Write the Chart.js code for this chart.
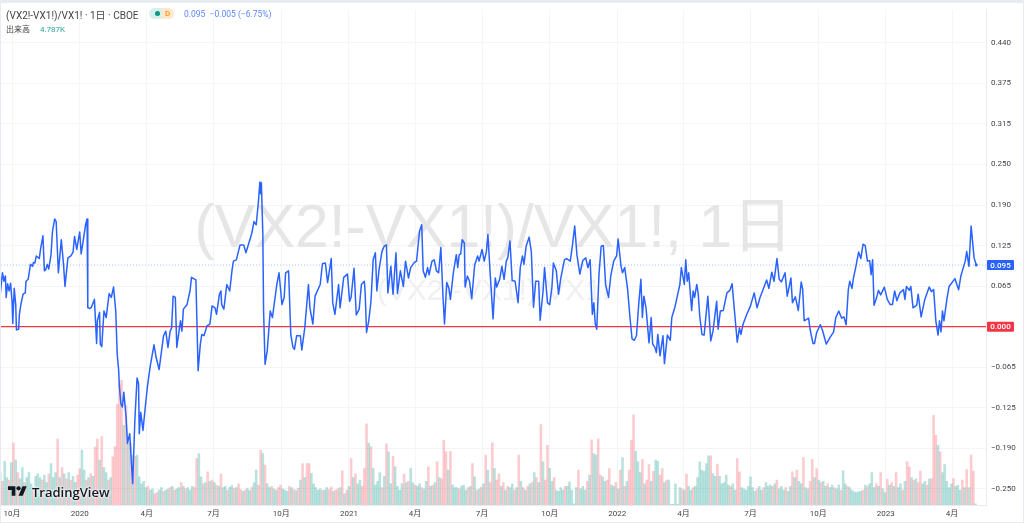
<!DOCTYPE html>
<html lang="ja">
<head>
<meta charset="utf-8">
<title>(VX2!-VX1!)/VX1!</title>
<script src="https://cdn.jsdelivr.net/npm/chart.js@4"></script>
<style>
  html, body { margin: 0; padding: 0; background: #fff; overflow: hidden; }
  #wrap { position: relative; width: 1024px; height: 523px; font-family: Roboto, "Noto Sans CJK JP", sans-serif; }
  #chart { position: absolute; left: 0; top: 0; }
  #frame { position: absolute; inset: 0; box-sizing: border-box; border: solid #e9ebf3; border-width: 3px 1px 1px 1px; pointer-events: none; }
  .row { position: absolute; left: 6px; white-space: nowrap; }
  #title { top: 7px; font-size: 10px; color: #444; }
  #badge { position: absolute; left: 149px; top: 8px; width: 25px; height: 11px; border-radius: 6px; overflow: hidden; background: linear-gradient(90deg, #d8f0ec 52%, #ffe8cc 52%); }
  #badge i { position: absolute; left: 5.5px; top: 3px; width: 5px; height: 5px; border-radius: 50%; background: #089981; }
  #badge b { position: absolute; left: 16px; top: 0; font-size: 8px; line-height: 11px; font-weight: 500; color: #f7931a; }
  #quote { position: absolute; left: 184px; top: 9px; font-size: 8.5px; color: #5b86ff; white-space: pre; }
  #volume { top: 23px; font-size: 8px; color: #444; }
  #volume span { margin-left: 10px; color: #26a69a; }
  #logo { position: absolute; left: 8px; top: 484px; }
  #brand { position: absolute; left: 32px; top: 483px; font: 600 13px "Open Sans", sans-serif; color: #131722; text-shadow: 0 0 3px #fff, 0 0 3px #fff; }
</style>
</head>
<body>
<div id="wrap">
  <canvas id="chart" width="1024" height="523"></canvas>
  <div id="frame"></div>
  <div class="row" id="title">(VX2!-VX1!)/VX1! · 1日 · CBOE</div>
  <div id="badge"><i></i><b>D</b></div>
  <div id="quote">0.095  −0.005 (−6.75%)</div>
  <div class="row" id="volume">出来高<span>4.787K</span></div>
  <svg id="logo" width="19" height="15" viewBox="0 0 36 28"><path d="M14 22H7V11H0V4h14v18zM28 22h-8l7.5-18h8L28 22z" fill="#131722"/><circle cx="20" cy="8" r="4" fill="#131722"/></svg>
  <div id="brand">TradingView</div>
</div>

<script>
// ============================
// DATA
// ============================
// days are counted from 2019-10-01
const dateTickDays = [0, 92, 183, 274, 366, 458, 548, 639, 731, 823, 913, 1004, 1096, 1188, 1278];
const dateTickLabels = ["10月", "2020", "4月", "7月", "10月", "2021", "4月", "7月", "10月", "2022", "4月", "7月", "10月", "2023", "4月"];

const priceTicks = [0.4375, 0.375, 0.3125, 0.25, 0.1875, 0.125, 0.0625, 0, -0.0625, -0.125, -0.1875, -0.25];
const priceTickLabels = ["0.440", "0.375", "0.315", "0.250", "0.190", "0.125", "0.065", "0.000", "−0.065", "−0.125", "−0.190", "−0.250"];

const lastValue = 0.095;
const zeroValue = 0;

const spreadDays = [
  -16,-13,-11,-9,-8,-6,-4,-2,0,1,3,5,6,9,10,12,15,18,19,22,25,28,29,31,33,37,39,42,44,46,48,50,53,55,58,60,63,67,70,72,76,80,83,85,88,92,94,98,100,102,
  103,106,108,112,115,116,119,120,122,125,128,132,135,138,141,143,145,146,148,150,152,155,157,160,164,167,170,172,173,175,178,181,184,188,193,196,200,206,209,212,215,217,219,222,224,229,231,233,238,240,
  242,244,250,253,256,258,261,265,269,272,276,278,282,284,285,288,292,296,299,301,305,310,315,318,322,326,329,332,335,337,338,339,341,342,344,347,351,354,360,363,367,370,372,376,379,382,384,387,392,394,
  398,403,405,409,412,419,422,426,429,434,436,439,444,446,451,456,459,461,465,468,472,475,479,480,482,485,488,491,494,496,499,503,506,509,511,515,518,522,524,528,532,535,539,542,547,550,554,557,559,562,
  565,567,571,574,577,580,583,586,588,591,594,596,600,604,606,608,610,612,615,616,619,622,625,629,633,635,639,642,645,647,650,654,657,659,663,666,669,672,674,677,680,684,688,691,694,696,699,703,706,709,
  712,716,718,722,724,728,731,734,736,740,743,746,751,754,759,762,765,768,772,776,780,783,786,789,791,793,795,798,801,804,807,811,814,818,822,824,828,830,833,837,840,843,846,849,852,855,857,859,862,866,
  869,871,874,876,878,881,885,887,891,895,897,901,908,910,914,916,918,920,924,926,928,931,933,935,938,941,946,950,953,958,960,963,967,972,976,979,983,986,989,991,994,999,1004,1009,1013,1017,1021,1026,1029,1033,
  1036,1040,1043,1046,1051,1054,1059,1061,1065,1069,1073,1075,1077,1083,1085,1089,1091,1094,1099,1102,1107,1112,1117,1120,1124,1128,1131,1134,1137,1139,1142,1144,1147,1151,1154,1157,1160,1163,1166,1168,1170,1172,1176,1178,1181,1186,1190,1194,1197,1200,
  1203,1207,1212,1214,1216,1220,1222,1225,1230,1232,1236,1241,1247,1250,1253,1256,1259,1261,1263,1265,1267,1271,1274,1282,1287,1290,1296,1298,1301,1304,1308,1311
];

const spreadValues = [
  .050,.083,.070,.078,.045,.066,.055,.067,.039,.005,.059,.034,-.005,-.004,.019,.034,.050,.052,.070,.073,.096,.093,.099,.098,.109,.105,.121,.140,.086,.088,.096,.089,.111,.147,.166,.162,.083,.134,.096,.062,.106,.109,.115,.139,.119,.146,.112,.142,.157,.166,
  .029,.028,.030,.042,-.026,.009,.022,-.027,-.031,.024,.014,.051,.045,.061,.024,-.042,-.068,-.093,-.119,-.124,-.101,-.139,-.180,-.165,-.242,-.144,-.079,-.088,-.165,-.132,-.160,-.126,-.093,-.060,-.028,-.048,-.066,-.014,-.007,-.032,-.007,-.002,.047,.045,-.032,.009,-.007,.027,.034,.045,
  .055,.076,.072,-.068,-.027,-.012,-.014,.001,.004,.032,.029,.019,.050,.055,.034,.027,.065,.055,.086,.101,.103,.126,.126,.114,.129,.144,.162,.157,.193,.223,.205,.222,.142,.024,-.058,-.037,.024,.014,.065,.083,.034,.045,.083,.086,-.012,-.032,-.035,-.014,-.014,-.036,
  -.002,.065,.029,.004,.047,.065,.097,.098,.068,.105,.037,.019,.065,.029,.076,.081,.039,.045,.090,.018,.027,.065,.070,.055,-.009,.009,.039,.103,.114,.055,.088,.116,.124,.126,.052,.093,.050,.114,.051,.086,.062,.101,.075,.091,.099,.101,.147,.157,.086,.076,
  .091,.080,.101,.103,.086,.083,.122,.045,.004,.068,.059,.042,.083,.111,.091,.111,.112,.134,.129,.061,.078,.070,.043,.095,.109,.101,.119,.101,.116,.142,.083,.012,.075,.061,.073,.093,.073,.101,.106,.132,.071,.070,.037,.091,.109,.096,.124,.138,.116,.030,
  .070,.070,.010,.055,.091,.037,.034,.060,.098,.086,.050,.074,.103,.105,.101,.126,.155,.111,.081,.102,.106,.091,.103,.019,.037,.004,-.004,.080,.124,.125,.065,.045,.078,.101,.109,.135,.093,.083,.091,.057,.016,-.019,-.021,-.014,.034,.073,.014,.047,.029,-.025,
  .014,-.027,-.032,-.040,-.012,-.045,-.014,-.057,-.013,-.021,.014,.029,.065,.091,.065,.103,.070,.083,.025,.055,.045,.065,.050,.016,-.012,-.013,.047,-.022,-.007,.039,-.004,.024,.025,.052,.056,.066,.014,-.024,-.002,-.012,.004,.019,.032,.052,.029,.045,.057,.072,.059,.084,
  .070,.105,.073,.069,.083,.047,.075,.037,.046,.025,.069,.057,.009,.013,-.004,-.026,-.026,-.009,.003,-.006,-.027,-.017,-.008,.014,.024,.013,.015,.003,.057,.070,.059,.075,.091,.115,.105,.127,.125,.101,.102,.080,.103,.033,.047,.056,.049,.061,.042,.034,.034,.055,
  .040,.052,.057,.042,.062,.056,.062,.029,.033,.050,.015,.042,.061,.054,.057,.009,-.013,.009,-.008,.024,.009,.042,.062,.074,.057,.078,.101,.116,.093,.155,.106,.095
];

// daily volume in thousands, one bar per volumeStep days from volumeStartDay
// negative = down day (pink bar), positive = up day (teal bar)
const volumeStartDay = -16;
const volumeStep = 3;
const volumes = [
  130,-95,175,110,-100,170,-250,180,-130,105,150,-90,110,130,85,-70,115,125,110,-100,
  120,90,-125,166,110,130,-265,110,-150,125,-105,130,-100,115,90,-120,-145,220,140,-100,
  110,-125,115,-233,-265,180,-275,150,130,-100,110,-193,-235,-405,-486,-500,320,-400,246,-250,
  200,-195,200,113,85,95,70,-75,60,65,-45,-50,60,70,-55,60,65,-70,75,-60,
  65,70,-90,75,-65,70,60,75,-70,-186,206,113,-85,90,-133,95,-100,90,-80,75,
  -124,70,75,-60,72,78,-66,70,-85,-62,55,-60,68,58,-72,90,140,-80,-220,206,
  -160,85,70,-75,65,60,-70,-80,65,60,55,-75,70,-62,58,-68,100,-166,110,-166,
  -166,127,85,70,60,65,-58,60,70,-62,-72,55,-60,-65,
  70,-137,45,-60,75,-186,
  110,-125,85,100,-75,-146,-326,249,-235,147,
  80,95,130,-70,115,-246,213,85,-195,153,
  75,60,85,-124,90,-95,147,90,-80,75,
  85,-70,65,95,-153,75,-80,90,-173,110,
  -105,-260,-213,140,-215,80,70,70,-65,75,
  80,60,-70,75,-166,113,-60,65,-72,85,
  -200,140,-90,-250,147,-100,-125,75,-90,60,
  -75,70,85,-60,70,-200,95,-70,60,-75,
  85,-90,130,-110,90,-323,173,-100,-240,147,
  95,-110,60,55,70,60,-75,75,93,60,
  5,70,-140,65,75,60,-95,120,-262,206,
  200,-266,-120,113,95,-100,-146,80,75,-90,
  65,-140,190,-75,95,-140,-260,-362,215,173,
  130,-182,85,-100,-162,95,-135,180,175,-120,
  -146,90,-100,100,3,3,85,3,
  70,-65,60,-124,75,60,-70,75,110,173,
  140,135,166,197,-197,125,115,-164,115,85,
  90,120,80,-75,85,60,-186,-133,70,65,
  60,75,113,70,55,-65,75,60,-70,90,
  75,80,-75,85,-100,65,75,60,-70,55,
  75,-133,110,-140,95,85,-190,70,65,-95,
  -182,110,-146,100,-90,95,75,-85,70,80,
  -70,65,80,-60,137,85,-75,70,60,53,
  50,53,55,-60,80,-75,85,130,70,-85,
  75,-130,65,50,-104,80,-90,75,-130,70,
  85,-60,95,-173,-153,110,-100,105,-90,-136,
  85,95,-80,105,-106,-360,-280,240,-213,130,
  162,95,70,85,-106,75,80,60,-100,70,
  -142,70,-200,-136,4.787
];

// ============================
// AXIS RANGES / COLOURS
// ============================
const xMin = -15;
const xMax = 1324.2;
const priceMin = -0.275;
const priceMax = 0.4885;
const volumeMax = 1988;

const BLUE = "#2962ff";
const RED = "#f23645";
const GRID = "#f4f5f8";
const AXIS_FONT = 'Roboto, "Noto Sans CJK JP", sans-serif';

// ============================
// WATERMARK + PRICE LABELS
// ============================
const watermark = {
  id: "watermark",
  beforeDatasetsDraw(chart) {
    const { ctx, chartArea } = chart;
    const cx = (chartArea.left + chartArea.right) / 2;
    ctx.save();
    ctx.textAlign = "center";
    ctx.textBaseline = "alphabetic";
    ctx.fillStyle = "#e6e6e6";
    ctx.font = '60.5px "Liberation Sans", "Noto Sans CJK JP", sans-serif';
    ctx.fillText("(VX2!-VX1!)/VX1!, 1日", cx, 247);
    ctx.fillStyle = "#f0f0f0";
    ctx.font = '30px "Liberation Sans", sans-serif';
    ctx.fillText("(VX2!-VX1!)/VX1!", cx, 300);
    ctx.restore();
  },
};

function drawPriceLabel(chart, value, text, color) {
  const { ctx } = chart;
  const y = chart.scales.y.getPixelForValue(value);
  ctx.save();
  ctx.fillStyle = color;
  ctx.beginPath();
  ctx.roundRect(987, y - 5, 27, 10, 1);
  ctx.fill();
  ctx.fillStyle = "#fff";
  ctx.font = "500 8px " + AXIS_FONT;
  ctx.textAlign = "center";
  ctx.textBaseline = "middle";
  ctx.fillText(text, 1000.5, y + 0.5);
  ctx.restore();
}

const priceLabels = {
  id: "priceLabels",
  afterDraw(chart) {
    drawPriceLabel(chart, lastValue, "0.095", BLUE);
    drawPriceLabel(chart, zeroValue, "0.000", RED);
  },
};

// ============================
// CHART
// ============================
new Chart(document.getElementById("chart"), {
  data: {
    datasets: [
      {
        type: "bar",
        yAxisID: "yVolume",
        order: 4,
        data: volumes.map((v, i) => ({ x: volumeStartDay + i * volumeStep, y: Math.abs(v) })),
        backgroundColor: volumes.map((v) => (v < 0 ? "rgba(242,54,69,0.26)" : "rgba(38,166,154,0.33)")),
        barThickness: 1.9,
      },
      {
        type: "line",
        yAxisID: "y",
        order: 3,
        data: [{ x: xMin, y: lastValue }, { x: xMax, y: lastValue }],
        borderColor: "rgba(41,98,255,0.4)",
        borderWidth: 1,
        borderDash: [1, 2],
        pointRadius: 0,
      },
      {
        type: "line",
        yAxisID: "y",
        order: 2,
        data: [{ x: xMin, y: zeroValue }, { x: xMax, y: zeroValue }],
        borderColor: RED,
        borderWidth: 1.3,
        pointRadius: 0,
      },
      {
        type: "line",
        yAxisID: "y",
        order: 1,
        data: spreadDays.map((d, i) => ({ x: d, y: spreadValues[i] })),
        borderColor: BLUE,
        borderWidth: 1.5,
        borderJoinStyle: "round",
        tension: 0,
        pointRadius: spreadDays.map((d, i) => (i === spreadDays.length - 1 ? 1.5 : 0)),
        pointBackgroundColor: BLUE,
        pointBorderWidth: 0,
      },
    ],
  },
  options: {
    responsive: false,
    animation: false,
    layout: { autoPadding: false, padding: { left: 1, top: 8, right: 0, bottom: 0 } },
    plugins: { legend: { display: false }, tooltip: { enabled: false } },
    scales: {
      x: {
        type: "linear",
        offset: false,
        min: xMin,
        max: xMax,
        afterFit(scale) {
          scale.height = 18;
          // first tick label would otherwise push the plot area to the right
          scale.paddingLeft = 0;
          scale.paddingRight = 0;
        },
        afterBuildTicks(scale) { scale.ticks = dateTickDays.map((d) => ({ value: d })); },
        grid: { color: GRID, drawTicks: false, offset: false },
        border: { color: "#e9ebf3" },
        ticks: {
          autoSkip: false,
          maxRotation: 0,
          padding: 4,
          color: "#444",
          font: { size: 8, family: AXIS_FONT },
          callback: (v, i) => dateTickLabels[i],
        },
      },
      y: {
        position: "right",
        min: priceMin,
        max: priceMax,
        afterFit(scale) { scale.width = 38; },
        afterBuildTicks(scale) { scale.ticks = priceTicks.map((v) => ({ value: v })); },
        grid: { color: GRID, drawTicks: false },
        border: { color: "#e9ebf3" },
        ticks: {
          autoSkip: false,
          padding: 5,
          color: "#444",
          font: { size: 8, family: AXIS_FONT },
          callback: (v, i) => priceTickLabels[i],
        },
      },
      yVolume: {
        display: false,
        min: 0,
        max: volumeMax,
      },
    },
  },
  plugins: [watermark, priceLabels],
});
</script>
</body>
</html>
